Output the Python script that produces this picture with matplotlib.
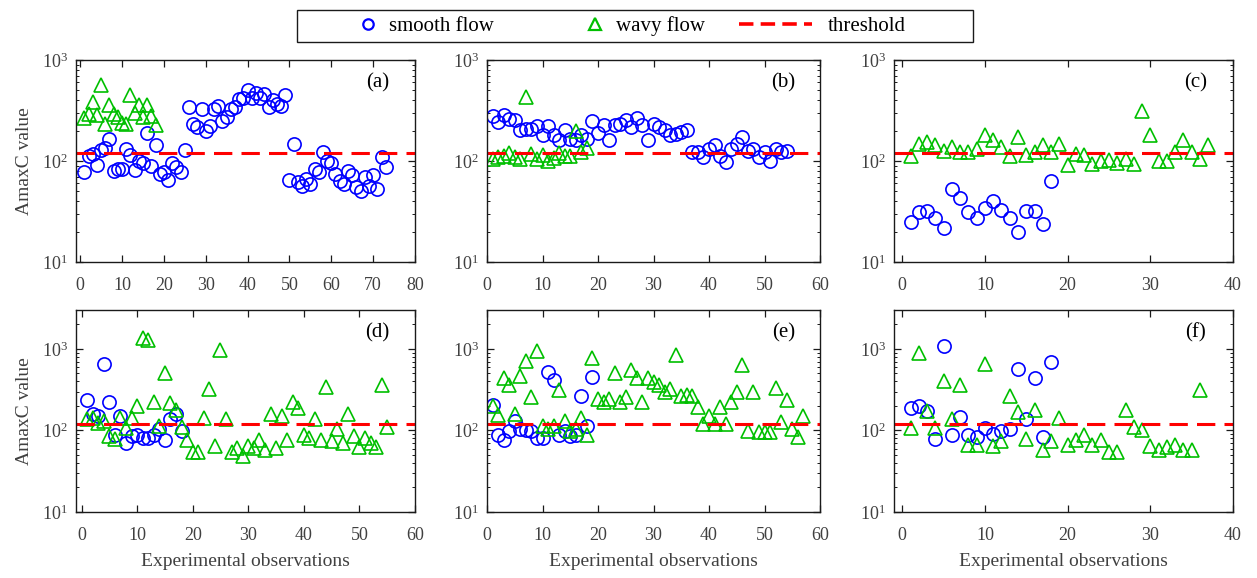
import matplotlib

matplotlib.use("Agg")
import matplotlib.pyplot as plt
import numpy as np
from matplotlib.legend_handler import HandlerLine2D
from matplotlib.lines import Line2D
from matplotlib.patches import Rectangle

plt.rcParams["font.family"] = ["Liberation Serif", "DejaVu Serif"]
plt.rcParams["axes.edgecolor"] = "#1a1a1a"
plt.rcParams["xtick.color"] = "#1a1a1a"
plt.rcParams["ytick.color"] = "#1a1a1a"
plt.rcParams["xtick.labelcolor"] = "#404040"
plt.rcParams["ytick.labelcolor"] = "#404040"

THRESHOLD = 120.0

# AmaxC value per experimental observation, one pair of series per panel
smooth_a = [78, 112, 118, 92, 128, 135, 165, 80, 83, 83, 130, 115, 82, 100, 95,
            190, 90, 145, 75, 78, 65, 95, 88, 78, 128,
            340, 230, 215, 330, 200, 220, 330, 350, 250, 270, 330, 340, 410, 420,
            510, 420, 470, 420, 460, 340, 400, 370, 350, 450,
            65, 148,
            62, 57, 66, 59, 84, 77, 122, 101, 96, 75, 64, 59, 80, 72, 55, 51,
            69, 57, 72, 53, 109, 87]
wavy_a = [265, 290, 380, 285, 560, 230, 360, 290, 270, 240, 235, 450, 300, 360,
          270, 355, 280, 225]

smooth_b = [279, 243, 284, 263, 253, 201, 206, 209, 222, 179, 222, 179, 160, 201,
            164, 160, 179, 166, 249, 190, 226, 160, 226, 234, 253, 217, 269, 226,
            160, 234, 217, 201, 179, 185, 194, 201, 122, 122, 109, 132, 143, 113,
            97, 132, 148, 173, 127, 132, 109, 122, 101, 132, 122, 125]
wavy_b = [105, 109, 113, 120, 109, 105, 430, 118, 105, 115, 101, 108, 120, 112,
          113, 197, 122, 133]

smooth_c = [25, 31, 32, 27, 21.5, 53, 43, 31, 27, 34, 40, 33, 27, 20, 32, 32, 24, 63]
wavy_c = [113, 148, 154, 145, 127, 137, 122, 122, 130, 179, 160, 137, 113, 173,
          115, 122, 145, 122, 148, 92, 118, 115, 94, 101, 103, 96, 105, 94, 311,
          182, 99, 101, 122, 160, 122, 105, 143]

smooth_d = [233, 158, 151, 656, 222, 89, 151, 70, 85, 89, 81, 81, 89, 103, 77,
            137, 158, 98]
wavy_d = [137, 144, 125, 131, 85, 79, 144, 108, 144, 198, 1370, 1270, 222, 115,
          500, 218, 179, 111, 77, 55, 55, 144, 320, 64, 980, 137, 54, 61, 48, 64,
          61, 77, 58, 158, 61, 151, 77, 226, 187, 89, 81, 137, 77, 340, 74, 103,
          70, 158, 85, 62, 81, 71, 62, 358, 111]

smooth_e = [205, 87, 77, 98, 131, 103, 100, 98, 81, 81, 516, 414, 87, 98, 85, 89,
            268, 113, 455]
wavy_e = [198, 154, 434, 365, 158, 469, 714, 256, 935, 113, 103, 113, 310, 131,
          98, 103, 144, 89, 772, 244, 222, 244, 501, 222, 256, 552, 434, 222, 443,
          394, 358, 296, 319, 850, 268, 274, 268, 192, 119, 151, 119, 192, 119,
          222, 296, 637, 98, 296, 95, 95, 95, 332, 127, 239, 103, 83, 151]

smooth_f = [187, 198, 175, 79, 1100, 87, 148, 87, 83, 108, 91, 98, 105, 562, 140,
            434, 83, 688]
wavy_f = [108, 891, 175, 108, 402, 140, 358, 67, 67, 649, 64, 74, 268, 170, 79,
          179, 57, 74, 144, 67, 77, 87, 67, 77, 54, 54, 179, 111, 101, 64, 57, 63,
          67, 58, 58, 310]

panel_labels = ["(a)", "(b)", "(c)", "(d)", "(e)", "(f)"]
smooth_series = [smooth_a, smooth_b, smooth_c, smooth_d, smooth_e, smooth_f]
wavy_series = [wavy_a, wavy_b, wavy_c, wavy_d, wavy_e, wavy_f]
x_limits = [(-1, 80), (0, 60), (-1, 40), (-1, 60), (0, 60), (-1, 40)]
y_limits = [(10, 1000)] * 3 + [(10, 3000)] * 3

BLUE = "#0000ff"
GREEN = "#00bf00"
RED = "#ff0000"

W, H = 1257, 578
fig = plt.figure(figsize=(W / 100, H / 100), dpi=100)

# axes boxes in pixels: (left, right) per column, (top, bottom) per row
cols = [(76, 415), (487, 820), (894, 1233)]
rows = [(60, 262), (310, 512)]

for i in range(6):
    r, c = divmod(i, 3)
    x0, x1 = cols[c]
    y0, y1 = rows[r]
    ax = fig.add_axes([x0 / W, 1 - y1 / H, (x1 - x0) / W, (y1 - y0) / H])

    s = np.asarray(smooth_series[i], dtype=float)
    w = np.asarray(wavy_series[i], dtype=float)
    ax.plot(np.arange(1, len(s) + 1), s, "o", ms=9.5, mfc="none", mec=BLUE, mew=1.2)
    ax.plot(np.arange(1, len(w) + 1), w, "^", ms=10.5, mfc="none", mec=GREEN, mew=1.2)
    ax.axhline(THRESHOLD, color=RED, lw=2.2, ls=(0, (6, 3)))

    ax.set_yscale("log")
    ax.set_xlim(*x_limits[i])
    ax.set_ylim(*y_limits[i])
    ax.set_xticks(np.arange(0, x_limits[i][1] + 1, 10))
    ax.set_yticks([10, 100, 1000])
    ax.tick_params(which="both", direction="in", top=True, right=True, labelsize=13)
    ax.tick_params(which="major", length=5, width=0.9)
    ax.tick_params(which="minor", length=2.5, width=0.7)
    ax.tick_params(axis="x", which="major", pad=11)
    ax.tick_params(axis="y", which="major", pad=6)
    for sp in ax.spines.values():
        sp.set_linewidth(1.0)

    ax.text(0.89, 0.885, panel_labels[i], transform=ax.transAxes,
            ha="center", va="center", fontsize=15)

    if c == 0:
        ax.set_ylabel("AmaxC value", fontsize=14, labelpad=6, color="#404040")
    if r == 1:
        ax.set_xlabel("Experimental observations", fontsize=14, labelpad=6,
                      color="#404040")

# shared legend across the top
h_smooth = Line2D([], [], ls="none", marker="o", ms=7.5, mfc="none", mec=BLUE, mew=1.6)
h_wavy = Line2D([], [], ls="none", marker="^", ms=9, mfc="none", mec=GREEN, mew=1.6)
h_thr = Line2D([], [], color=RED, lw=2.6, ls=(0, (4, 2)))
fig.legend([h_smooth, h_wavy, h_thr], ["smooth flow", "wavy flow", "threshold"],
           ncol=3, loc="center", bbox_to_anchor=(603 / W, 1 - 26 / H),
           frameon=False, fontsize=15, handlelength=3.5, handletextpad=0.77,
           columnspacing=1.6,
           handler_map={h_smooth: HandlerLine2D(xpad=2.98),
                        h_wavy: HandlerLine2D(xpad=2.98)})
fig.patches.append(Rectangle((297 / W, 1 - 42 / H), 676 / W, 32 / H,
                             transform=fig.transFigure, fill=False,
                             edgecolor="#1a1a1a", lw=1.0))

fig.savefig("out.png", dpi=100)
plt.close(fig)
